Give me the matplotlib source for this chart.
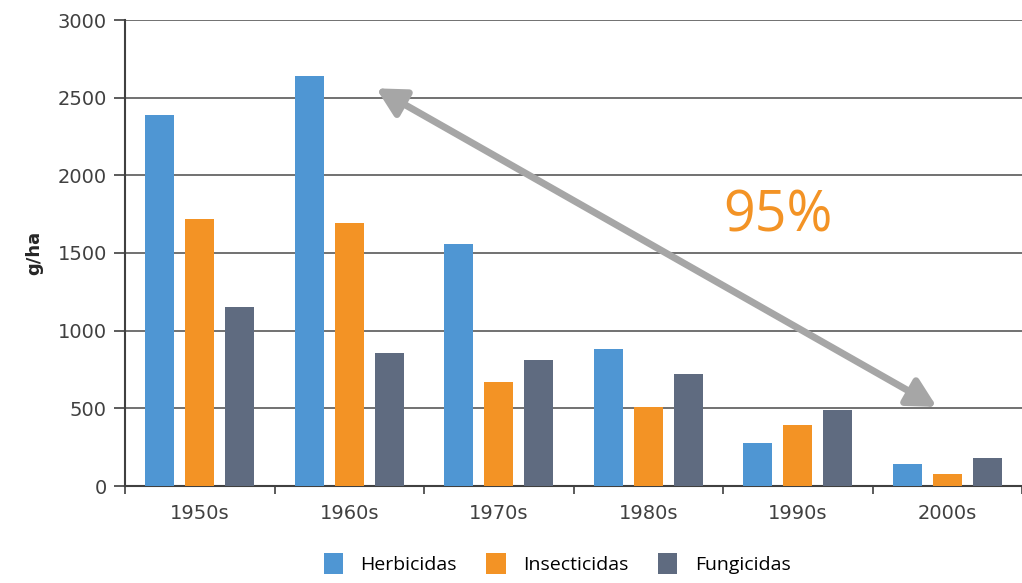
import matplotlib
matplotlib.use("Agg")
import matplotlib.pyplot as plt
import numpy as np

decades = ["1950s", "1960s", "1970s", "1980s", "1990s", "2000s"]
herbicidas = [2390, 2640, 1558, 880, 277, 140]
insecticidas = [1719, 1693, 670, 509, 393, 77]
fungicidas = [1153, 856, 811, 721, 489, 180]
series_names = ["Herbicidas", "Insecticidas", "Fungicidas"]
colors = ["#4F96D3", "#F39325", "#5F6B80"]
yticks = [0, 500, 1000, 1500, 2000, 2500, 3000]

plt.rcParams['font.family'] = ['DejaVu Sans']

fig = plt.figure(figsize=(10.22, 5.83), dpi=100)
ax = fig.add_axes([125/1022, 1-486/583, (1022-125)/1022, (486-20)/583])

x = np.arange(len(decades))
w = 29/150
off = 40/150
for i, (vals, name, c) in enumerate(zip([herbicidas, insecticidas, fungicidas], series_names, colors)):
    ax.bar(x + (i-1)*off, vals, width=w, color=c, label=name, zorder=3)

ax.set_xlim(-0.5, -0.5 + 897/150)
ax.set_ylim(0, 3000)
ax.set_yticks(yticks)
ax.set_xticks(x)
ax.set_xticklabels(decades)
ax.set_xticks(np.arange(-0.5, 6, 1), minor=True)
ax.tick_params(axis='x', which='major', length=0, pad=13, labelsize=14, colors='#404040')
ax.tick_params(axis='x', which='minor', length=6, width=1.2, color='#404040', direction='out')
ax.tick_params(axis='y', length=8, width=1.2, color='#404040', labelsize=14, labelcolor='#404040', pad=5)
ax.grid(axis='y', color='#595959', linewidth=1.2, zorder=0)
for s in ['top', 'right']:
    ax.spines[s].set_visible(False)
for s in ['left', 'bottom']:
    ax.spines[s].set_color('#404040')
    ax.spines[s].set_linewidth(1.5)
ax.set_ylabel("g/ha", fontsize=13, fontweight='bold', labelpad=10, color='#262626')

ax.annotate("", xy=(1.18, 2560), xytext=(4.93, 509),
            arrowprops=dict(arrowstyle="<|-|>,head_length=1.7,head_width=0.9",
                            color="#A6A6A6", lw=5, shrinkA=0, shrinkB=0), zorder=5)
ax.text(3.87, 1730, "95%", fontsize=40, color="#F39325", ha='center', va='center',
        family=['Open Sans', 'DejaVu Sans'])

fig.legend(loc='lower center', bbox_to_anchor=(0.545, -0.015), ncol=3, frameon=False,
           handlelength=1.0, handleheight=1.25, columnspacing=1.5, handletextpad=0.9,
           prop={'family': ['Open Sans', 'DejaVu Sans'], 'size': 14})

fig.savefig("out.png", dpi=100)
